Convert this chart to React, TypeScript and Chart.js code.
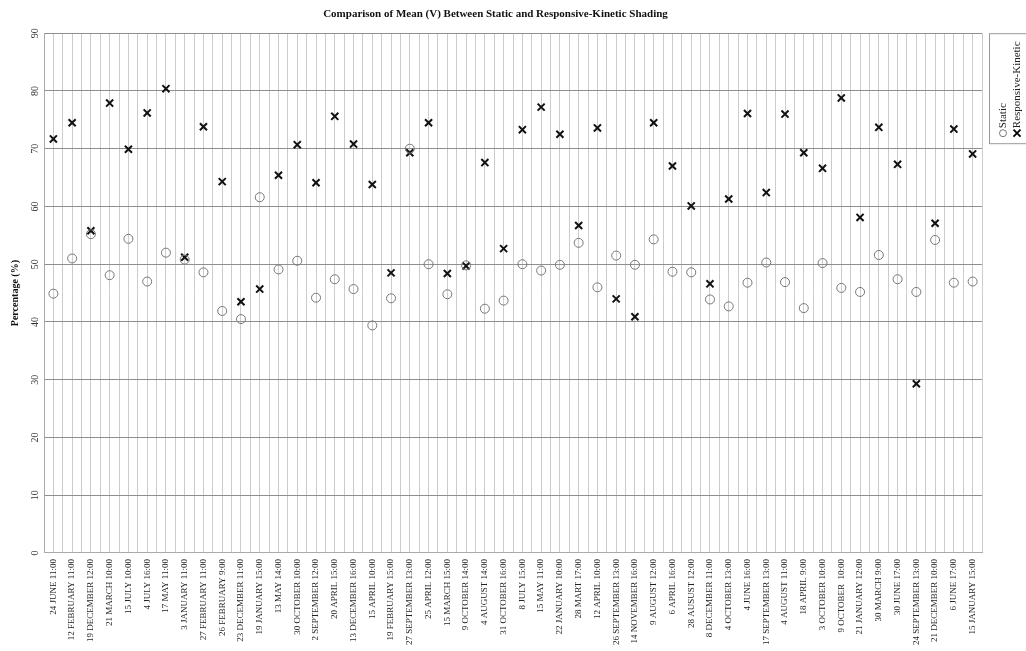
import React, { useEffect, useRef } from "react";
import { Chart, registerables } from "chart.js";

Chart.register(...registerables);

const categories: string[] = [
  "24 JUNE 11:00", "12 FEBRUARY 11:00", "19 DECEMBER 12:00", "21 MARCH 10:00", "15 JULY 10:00",
  "4 JULY 16:00", "17 MAY 11:00", "3 JANUARY 11:00", "27 FEBRUARY 11:00", "26 FEBRUARY 9:00",
  "23 DECEMBER 11:00", "19 JANUARY 15:00", "13 MAY 14:00", "30 OCTOBER 10:00", "2 SEPTEMBER 12:00",
  "20 APRIL 15:00", "13 DECEMBER 16:00", "15 APRIL 10:00", "19 FEBRUARY 15:00", "27 SEPTEMBER 13:00",
  "25 APRIL 12:00", "15 MARCH 15:00", "9 OCTOBER 14:00", "4 AUGUST 14:00", "31 OCTOBER 16:00",
  "8 JULY 15:00", "15 MAY 11:00", "22 JANUARY 10:00", "28 MART 17:00", "12 APRIL 10:00",
  "26 SEPTEMBER 13:00", "14 NOVEMBER 16:00", "9 AUGUST 12:00", "6 APRIL 16:00", "28 AUSUST 12:00",
  "8 DECEMBER 11:00", "4 OCTOBER 13:00", "4 JUNE 16:00", "17 SEPTEMBER 13:00", "4 AUGUST 11:00",
  "18 APRIL 9:00", "3 OCTOBER 10:00", "9 OCTOBER  10:00", "21 JANUARY 12:00", "30 MARCH 9:00",
  "30 JUNE 17:00", "24 SEPTEMBER 13:00", "21 DECEMBER 10:00", "6 JUNE 17:00", "15 JANUARY 15:00",
];

const staticValues: number[] = [
  44.9, 51.0, 55.2, 48.1, 54.4, 47.0, 52.0, 50.8, 48.6, 41.9,
  40.5, 61.6, 49.1, 50.6, 44.2, 47.4, 45.7, 39.4, 44.1, 70.0,
  50.0, 44.8, 49.8, 42.3, 43.7, 50.0, 48.9, 49.9, 53.7, 46.0,
  51.5, 49.9, 54.3, 48.7, 48.6, 43.9, 42.7, 46.8, 50.3, 46.9,
  42.4, 50.2, 45.9, 45.2, 51.6, 47.4, 45.2, 54.2, 46.8, 47.0,
];

const kineticValues: number[] = [
  71.7, 74.5, 55.8, 77.9, 69.9, 76.2, 80.4, 51.2, 73.8, 64.3,
  43.5, 45.7, 65.4, 70.7, 64.1, 75.6, 70.8, 63.8, 48.5, 69.3,
  74.5, 48.4, 49.7, 67.6, 52.7, 73.3, 77.2, 72.5, 56.7, 73.6,
  44.0, 40.9, 74.5, 67.0, 60.1, 46.6, 61.3, 76.1, 62.4, 76.0,
  69.3, 66.6, 78.8, 58.1, 73.7, 67.3, 29.3, 57.1, 73.4, 69.1,
];

const yTicks: number[] = [0, 10, 20, 30, 40, 50, 60, 70, 80, 90];

const FONT = "'Liberation Serif', 'Times New Roman', serif";

const rotatedLegend = {
  id: "rotatedLegend",
  afterDraw(chart: any) {
    const { ctx, chartArea } = chart;
    const left = chartArea.right + 7;
    const top = chartArea.top;
    const boxW = 60;
    const boxH = 110;
    ctx.save();
    ctx.strokeStyle = "#999";
    ctx.lineWidth = 1;
    ctx.strokeRect(left + 0.5, top + 0.5, boxW, boxH);
    const bottomY = top + boxH - 6;
    const datasets = chart.data.datasets;
    const colX = [left + 14, left + 28];
    datasets.forEach((ds: any, i: number) => {
      const x = colX[i];
      ctx.save();
      ctx.translate(x, bottomY);
      ctx.rotate(-Math.PI / 2);
      ctx.beginPath();
      if (i === 0) {
        ctx.strokeStyle = "#777";
        ctx.lineWidth = 1;
        ctx.arc(4, 0, 3.5, 0, Math.PI * 2);
        ctx.stroke();
      } else {
        ctx.strokeStyle = "#000";
        ctx.lineWidth = 1.8;
        ctx.moveTo(0.5, -3.5);
        ctx.lineTo(7.5, 3.5);
        ctx.moveTo(0.5, 3.5);
        ctx.lineTo(7.5, -3.5);
        ctx.stroke();
      }
      ctx.fillStyle = "#222";
      ctx.font = `11px ${FONT}`;
      ctx.textBaseline = "middle";
      ctx.textAlign = "left";
      ctx.fillText(ds.label, 9, 0.5);
      ctx.restore();
    });
    ctx.restore();
  },
};

export default function App() {
  const canvasRef = useRef<HTMLCanvasElement | null>(null);

  useEffect(() => {
    document.body.style.margin = "0";
    const canvas = canvasRef.current;
    if (!canvas) return;
    const chart = new Chart(canvas, {
      type: "scatter",
      data: {
        datasets: [
          {
            label: "Static",
            data: staticValues.map((v, i) => ({ x: i, y: v })),
            pointStyle: "circle",
            pointRadius: 4.5,
            pointBorderColor: "#777",
            pointBackgroundColor: "rgba(255,255,255,0)",
            pointBorderWidth: 1,
            showLine: false,
          },
          {
            label: "Responsive-Kinetic",
            data: kineticValues.map((v, i) => ({ x: i, y: v })),
            pointStyle: "crossRot",
            pointRadius: 5,
            pointBorderColor: "#111",
            pointBorderWidth: 2,
            showLine: false,
          },
        ],
      },
      options: {
        animation: false,
        responsive: true,
        maintainAspectRatio: false,
        layout: { padding: { left: 9, right: 44, top: 0, bottom: 0 } },
        plugins: {
          legend: { display: false },
          tooltip: { enabled: false },
          title: {
            display: true,
            text: "Comparison of Mean (V) Between Static and Responsive-Kinetic Shading",
            color: "#111",
            font: { family: FONT, size: 11, weight: "bold" },
            padding: { top: 8, bottom: 12 },
          },
        },
        scales: {
          x: {
            type: "linear",
            min: -0.5,
            max: categories.length - 0.5,
            grid: { color: "#cccccc", lineWidth: 1, drawTicks: false },
            border: { color: "#aaa" },
            ticks: {
              stepSize: 0.5,
              autoSkip: false,
              minRotation: 90,
              maxRotation: 90,
              padding: 6,
              color: "#222",
              font: { family: FONT, size: 9 },
              callback: (value: any) => {
                const v = Number(value);
                const r = Math.round(v);
                if (Math.abs(v - r) < 1e-6 && r >= 0 && r < categories.length) return categories[r];
                return "";
              },
            },
          },
          y: {
            min: yTicks[0],
            max: yTicks[yTicks.length - 1],
            afterBuildTicks: (scale: any) => {
              scale.ticks = yTicks.map((v) => ({ value: v }));
            },
            grid: { color: "#8f8f8f", lineWidth: 1, drawTicks: false },
            border: { color: "#aaa" },
            title: {
              display: true,
              text: "Percentage (%)",
              color: "#111",
              font: { family: FONT, size: 10, weight: "bold" },
              padding: { top: 0, bottom: 3 },
            },
            ticks: {
              minRotation: 90,
              maxRotation: 90,
              crossAlign: "center",
              padding: 4,
              color: "#333",
              font: { family: FONT, size: 10 },
            },
          },
        },
      },
      plugins: [rotatedLegend],
    });
    return () => chart.destroy();
  }, []);

  return (
    <div style={{ width: "1026px", height: "651px", position: "relative", background: "#fff" }}>
      <canvas ref={canvasRef} />
    </div>
  );
}
